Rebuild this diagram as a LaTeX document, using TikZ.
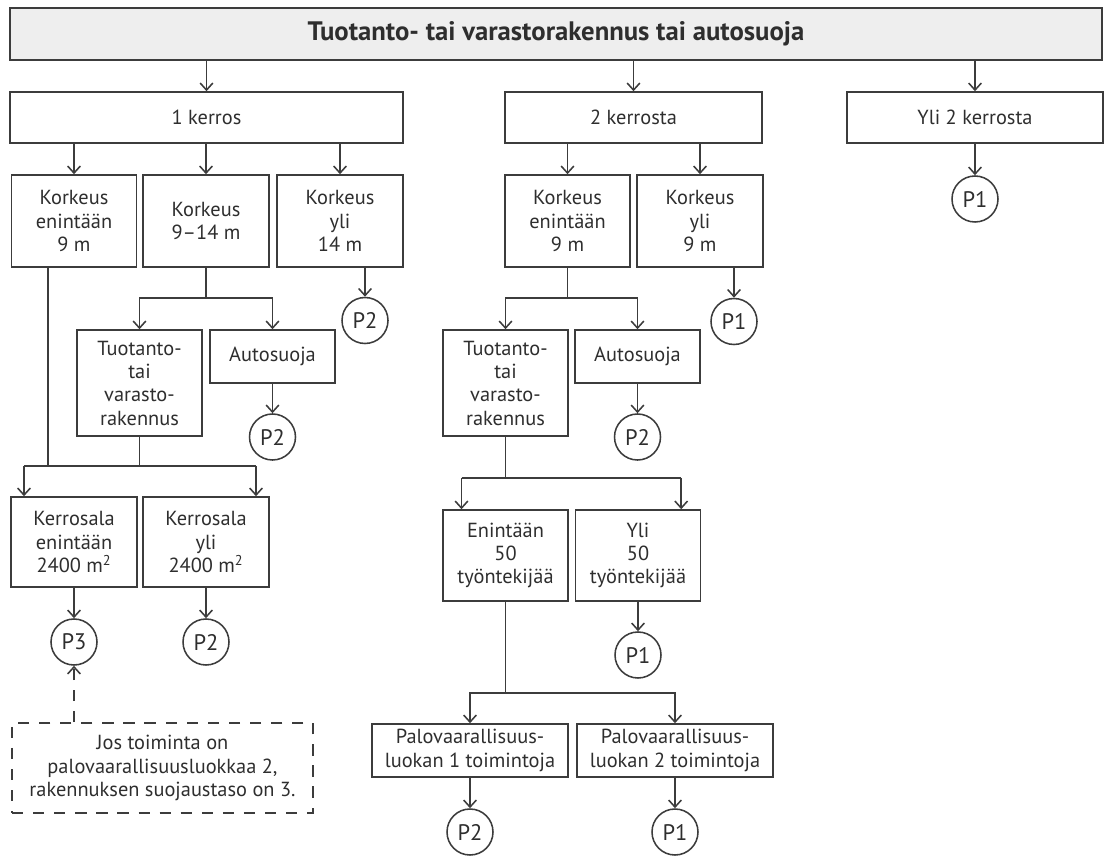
\documentclass[tikz,border=0pt]{standalone}
\usepackage{fontspec}
\setmainfont{PT Sans}
\usepackage{tikz}
\usetikzlibrary{arrows.meta,calc,positioning}
\newcommand{\boxfont}{\fontsize{14.5pt}{16.6pt}\selectfont}
\newcommand{\headfont}{\fontsize{19pt}{22pt}\selectfont\bfseries}
\newcommand{\pfont}{\fontsize{16pt}{18pt}\selectfont}
\definecolor{linegray}{HTML}{3C3C3C}
\definecolor{textgray}{HTML}{2E2E2E}
\tikzset{
    head/.style = {draw, rectangle, fill=gray!13,
        minimum height=1.3cm, minimum width=27.3cm, font=\headfont},
    floorbox/.style = {draw, rectangle, minimum height=1.275cm},
    block/.style = {draw, rectangle, 
        minimum height=2.3cm, 
        minimum width=3.125cm, align=center},
    tallblock/.style = {block, minimum height=2.65cm},
    lowblock/.style = {block, minimum height=1.325cm},
    wideblock/.style = {block, minimum height=1.325cm, minimum width=4.9cm},
    pclass/.style = {draw, circle, minimum size=1.15cm, inner sep=0pt, font=\pfont},
    notebox/.style = {draw, rectangle, dash pattern=on 8pt off 7pt,
        minimum width=7.525cm, minimum height=2.25cm, align=center},
    bus/.style = {coordinate}
}

\begin{document}
\begin{tikzpicture}[>={Straight Barb[length=5pt,width=9pt]}, line width=1.1pt, color=linegray,
    every node/.style={font=\boxfont, text=textgray, inner sep=2pt}]
    \useasboundingbox (0,0) rectangle (27.7,-21.425);
    \node [head] (T) at (13.9,-0.85) {Tuotanto- tai varastorakennus tai autosuoja};
    % kerrosluku
    \node [floorbox, minimum width=9.825cm] (k1) at (5.1625,-2.9375) {1 kerros};
    \node [floorbox, minimum width=6.425cm, right of=k1, node distance=10.675cm] (k2) {2 kerrosta};
    \node [floorbox, minimum width=6.4cm, right of=k2, node distance=8.5375cm] (k3) {Yli 2 kerrosta};
    \foreach \k in {k1,k2,k3}{
        \draw [->] (\k |- T.south) -- (\k);
        }
    \node [pclass] (pK3) at (24.375,-4.975) {P1};
    \draw [->] (k3) -- (pK3);

    % 1 kerros
    \node [block] (a1) at (1.85,-5.525) {Korkeus\\enintään\\9 m};
    \node [block, right of=a1, node distance=3.3cm, minimum width=3.15cm] (a2) {Korkeus\\9–14 m};
    \node [block, right of=a2, node distance=3.35cm, minimum width=3.15cm] (a3) {Korkeus\\yli\\14 m};
    \foreach \a in {a1,a2,a3}{
        \draw [->] (\a |- k1.south) -- (\a);
        }
    \node [pclass] (pA3) at (9.125,-8.0125) {P2};
    \draw [->] (pA3 |- a3.south) -- (pA3);
    \node [bus] (busB) at (0,-7.45) {};
    \node [tallblock] (b1) at (3.4875,-9.575) {Tuotanto-\\tai\\varasto-\\rakennus};
    \node [lowblock] (b2) at (6.8125,-8.9125) {Autosuoja};
    \draw (a2.south) -- (a2 |- busB);
    \draw [->] (a2 |- busB) -| (b1);
    \draw [->] (a2 |- busB) -| (b2);
    \node [pclass, below of=b2, node distance=2.0125cm] (pB2) {P2};
    \draw [->] (b2) -- (pB2);

    \node [bus] (busC) at (0,-11.65) {};
    \node [block, minimum width=3.15cm, minimum height=2.25cm] (c1) at (1.85,-13.55) {Kerrosala\\enintään\\2400 m\textsuperscript{2}};
    \node [block, minimum width=3.15cm, minimum height=2.25cm, right of=c1, node distance=3.3cm] (c2) {Kerrosala\\yli\\2400 m\textsuperscript{2}};
    \coordinate (a1out) at ([xshift=-0.65cm]a1.south);
    \coordinate (c1in) at ([xshift=-1.25cm]c1.north);
    \coordinate (c2in) at ([xshift=1.25cm]c2.north);
    \draw (a1out) -- (a1out |- busC);
    \draw (b1.south) -- (b1 |- busC);
    \draw (c1in |- busC) -- (c2in |- busC);
    \draw [->] (c1in |- busC) -- (c1in);
    \draw [->] (c2in |- busC) -- (c2in);
    \node [pclass, below of=c1, node distance=2.5cm] (pC1) {P3};
    \node [pclass, below of=c2, node distance=2.5cm] (pC2) {P2};
    \draw [->] (c1) -- (pC1);
    \draw [->] (c2) -- (pC2);
    \node [notebox] (note) at (4.0625,-19.2) {Jos toiminta on\\palovaarallisuusluokkaa 2,\\rakennuksen suojaustaso on 3.};
    \draw [->, dash pattern=on 8pt off 7pt] (note.north -| pC1) -- (pC1);

    % 2 kerrosta
    \node [block] (d1) at (14.1875,-5.525) {Korkeus\\enintään\\9 m};
    \node [block, minimum width=3.15cm, right of=d1, node distance=3.3125cm] (d2) {Korkeus\\yli\\9 m};
    \foreach \d in {d1,d2}{
        \draw [->] (\d |- k2.south) -- (\d);
        }
    \node [pclass] (pD2) at (18.35,-8.0375) {P1};
    \draw [->] (pD2 |- d2.south) -- (pD2);
    \node [tallblock] (e1) at (12.6375,-9.575) {Tuotanto-\\tai\\varasto-\\rakennus};
    \node [lowblock] (e2) at (15.9375,-8.9125) {Autosuoja};
    \draw (d1.south) -- (d1 |- busB);
    \draw [->] (d1 |- busB) -| (e1);
    \draw [->] (d1 |- busB) -| (e2);
    \node [pclass, below of=e2, node distance=2.0125cm] (pE2) {P2};
    \draw [->] (e2) -- (pE2);

    \node [bus] (busE) at (0,-11.95) {};
    \node [block, minimum height=2.275cm] (f1) at (12.6375,-13.8875) {Enintään\\50\\työntekijää};
    \node [block, minimum height=2.275cm, right of=f1, node distance=3.3125cm] (f2) {Yli\\50\\työntekijää};
    \coordinate (f1in) at ([xshift=-1.1cm]f1.north);
    \coordinate (f2in) at ([xshift=1.08cm]f2.north);
    \draw (e1.south) -- (e1 |- busE);
    \draw (f1in |- busE) -- (f2in |- busE);
    \draw [->] (f1in |- busE) -- (f1in);
    \draw [->] (f2in |- busE) -- (f2in);
    \node [pclass, below of=f2, node distance=2.4875cm] (pF2) {P1};
    \draw [->] (f2) -- (pF2);

    \node [bus] (busF) at (0,-17.325) {};
    \node [wideblock] (g1) at (11.75,-18.7625) {Palovaarallisuus-\\luokan 1 toimintoja};
    \node [wideblock, right of=g1, node distance=5.125cm] (g2) {Palovaarallisuus-\\luokan 2 toimintoja};
    \draw (f1.south) -- (f1 |- busF);
    \draw [->] (f1 |- busF) -| (g1);
    \draw [->] (f1 |- busF) -| (g2);
    \node [pclass, below of=g1, node distance=2.0375cm] (pG1) {P2};
    \node [pclass, below of=g2, node distance=2.0375cm] (pG2) {P1};
    \draw [->] (g1) -- (pG1);
    \draw [->] (g2) -- (pG2);
\end{tikzpicture}
\end{document}
